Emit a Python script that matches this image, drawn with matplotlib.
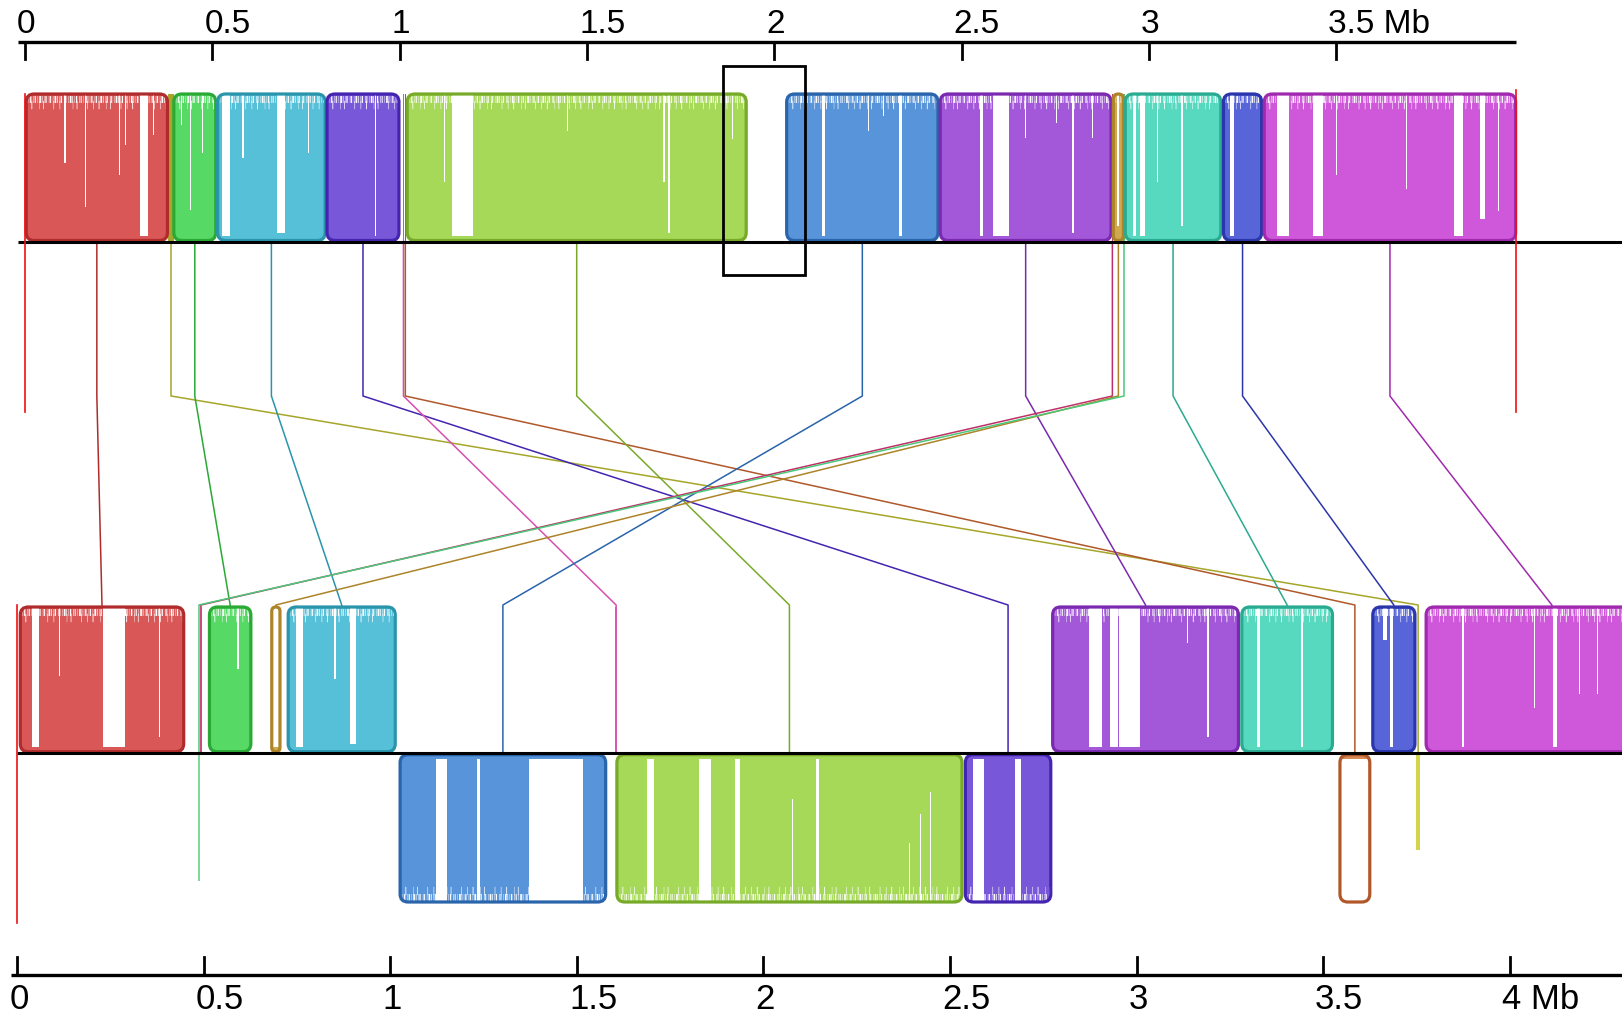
import matplotlib
matplotlib.use("Agg")
import matplotlib.pyplot as plt
from matplotlib.patches import FancyBboxPatch, Rectangle
from matplotlib.transforms import offset_copy

plt.rcParams["lines.scale_dashes"] = False

# ---------------- data (positions in Mb) ----------------
top_ticks = [0, 0.5, 1, 1.5, 2, 2.5, 3, 3.5]
top_tick_labels = ["0", "0.5", "1", "1.5", "2", "2.5", "3", "3.5 Mb"]
bot_ticks = [0, 0.5, 1, 1.5, 2, 2.5, 3, 3.5, 4]
bot_tick_labels = ["0", "0.5", "1", "1.5", "2", "2.5", "3", "3.5", "4 Mb"]
top_length = 3.979
bot_length = 4.45

lcb_fill = ["#d95757", "#d4d44c", "#57d965", "#57c0d9", "#7957d9", "#d957b8",
            "#d98a57", "#a6d957", "#5794d9", "#a357d9", "#d04a78", "#d0a850",
            "#7fd99a", "#57d9c0", "#5765d9", "#cf57d9"]
lcb_edge = ["#b02c2c", "#a6a62a", "#2aaa35", "#2a94ab", "#4425b0", "#d64fb0",
            "#b0582a", "#78aa2a", "#2a64aa", "#7a2aae", "#c03068", "#ad8428",
            "#4cc87a", "#2aaa90", "#2a36aa", "#a02aae"]
top_start = [0.003, 0.382, 0.397, 0.514, 0.806, 1.008, 1.013, 1.020, 2.033, 2.443,
             2.901, 2.905, 2.932, 2.937, 3.199, 3.308]
top_end = [0.380, 0.397, 0.509, 0.801, 0.998, 1.012, 1.017, 1.925, 2.437, 2.899,
           2.904, 2.932, 2.935, 3.192, 3.301, 3.979]
bot_start = [0.008, 3.749, 0.515, 0.726, 2.541, 1.603, 3.545, 1.607, 1.026, 2.775,
             0.490, 0.682, 0.485, 3.282, 3.633, 3.776]
bot_end = [0.446, 3.760, 0.626, 1.013, 2.770, 1.607, 3.625, 2.532, 1.577, 3.273,
           0.494, 0.704, 0.489, 3.525, 3.746, 4.450]
bot_reverse = [False, True, False, False, True, False, True, True, True, False,
               False, False, True, False, False, False]

# low-similarity (white) stretches: (start, end, depth fraction)
top_gaps = [(0.105, 0.108, 0.47), (0.159, 0.163, 0.77), (0.250, 0.253, 0.55),
            (0.267, 0.270, 0.35), (0.307, 0.327, 0.97), (0.342, 0.345, 0.28),
            (0.417, 0.420, 0.21), (0.441, 0.444, 0.79), (0.472, 0.475, 0.40),
            (0.525, 0.547, 0.97), (0.578, 0.584, 0.44), (0.672, 0.694, 0.95),
            (0.756, 0.759, 0.40), (0.933, 0.938, 0.97),
            (1.118, 1.122, 0.60), (1.140, 1.196, 0.97), (1.446, 1.449, 0.25),
            (1.704, 1.708, 0.60), (1.717, 1.722, 0.95), (1.886, 1.889, 0.31),
            (2.128, 2.135, 0.97), (2.249, 2.252, 0.25), (2.290, 2.293, 0.15),
            (2.333, 2.342, 0.97), (2.548, 2.557, 0.97), (2.583, 2.627, 0.97),
            (2.668, 2.671, 0.30), (2.751, 2.754, 0.20), (2.796, 2.799, 0.95),
            (2.849, 2.852, 0.30), (2.916, 2.921, 0.90),
            (2.958, 2.966, 0.97), (2.976, 2.990, 0.97), (3.021, 3.024, 0.60),
            (3.087, 3.090, 0.90), (3.216, 3.227, 0.97),
            (3.342, 3.374, 0.97), (3.437, 3.465, 0.97), (3.499, 3.502, 0.55),
            (3.687, 3.690, 0.65), (3.814, 3.838, 0.97), (3.884, 3.897, 0.85),
            (3.931, 3.934, 0.80)]
bot_gaps = [(0.040, 0.059, 0.97), (0.111, 0.114, 0.48), (0.231, 0.290, 0.97),
            (0.380, 0.383, 0.90), (0.485, 0.489, 0.14), (0.589, 0.593, 0.43),
            (0.684, 0.702, 0.97), (0.746, 0.766, 0.97), (0.850, 0.853, 0.50),
            (0.892, 0.907, 0.95),
            (1.121, 1.152, 0.97), (1.232, 1.240, 0.97), (1.372, 1.517, 0.97),
            (1.689, 1.706, 0.97), (1.828, 1.860, 0.97), (1.923, 1.937, 0.97),
            (2.076, 2.079, 0.70), (2.140, 2.150, 0.97), (2.389, 2.392, 0.40),
            (2.419, 2.422, 0.60), (2.445, 2.448, 0.75),
            (2.561, 2.591, 0.97), (2.675, 2.689, 0.97),
            (2.873, 2.908, 0.97), (2.928, 2.950, 0.97), (2.953, 3.009, 0.97),
            (3.134, 3.137, 0.25), (3.190, 3.193, 0.90),
            (3.322, 3.331, 0.97), (3.441, 3.446, 0.97), (3.548, 3.622, 0.97),
            (3.660, 3.670, 0.23), (3.679, 3.688, 0.97), (3.749, 3.760, 0.35),
            (3.871, 3.878, 0.97), (4.066, 4.069, 0.70), (4.116, 4.127, 0.97),
            (4.185, 4.188, 0.60), (4.235, 4.238, 0.60)]
highlight_range = (1.862, 2.082)

# ---------------- layout / style ----------------
W, H, DPI = 1622, 1016, 100
TOP_X0, TOP_PPM = 25.1, 374.6      # pixel of 0 Mb, pixels per Mb
BOT_X0, BOT_PPM = 17.3, 373.1
TOP_AXIS_Y, TOP_TICK_Y, TOP_LABEL_Y = 42, 59, 33
TOP_BLK0, TOP_CENTER, TOP_BEND, TOP_PANEL_END = 94, 241.5, 396, 412
BOT_BEND, BOT_BLK0, BOT_CENTER, BOT_REV_END, BOT_PANEL_END = 605, 607, 752.7, 902, 923
BOT_AXIS_Y, BOT_TICK_Y, BOT_LABEL_Y = 975, 957, 1009
FONT = ["Liberation Sans", "DejaVu Sans"]
# texture of the similarity profile's ragged edge (dash on/off lengths, points)
FRINGE_A = (0.5, 1.1, 0.3, 0.7, 0.9, 1.6, 0.4, 0.5, 0.7, 1.3, 0.3, 0.9, 1.2, 0.6)
FRINGE_B = (0.4, 3.5, 0.6, 5.0, 0.3, 2.5, 0.5, 7.0, 0.4, 4.0)

fig = plt.figure(figsize=(W / DPI, H / DPI), dpi=DPI)
ax_t = fig.add_axes([0, 0, 1, 1])
ax_b = fig.add_axes([0, 0, 1, 1])
for ax, x0, ppm in ((ax_t, TOP_X0, TOP_PPM), (ax_b, BOT_X0, BOT_PPM)):
    ax.set_xlim(-x0 / ppm, (W - x0) / ppm)
    ax.set_ylim(H, 0)
    ax.axis("off")
    ax.patch.set_alpha(0)


def draw_block(ax, ppm, x0, x1, y0, y1, fill, edge, tiny_color, gaps, reverse):
    w, h = x1 - x0, y1 - y0
    if w * ppm < 6:
        full = Rectangle((x0, y0), w, h, fc=tiny_color, ec="none", zorder=3)
        ax.add_patch(full)
        clip = full
        outline = None
    else:
        r = min(8 / ppm, w / 2, h / (2 * ppm))
        style = f"round,pad=0,rounding_size={r}"
        clip = FancyBboxPatch((x0, y0), w, h, boxstyle=style, mutation_aspect=ppm,
                              fc=fill, ec="none", zorder=3)
        ax.add_patch(clip)
        outline = FancyBboxPatch((x0, y0), w, h, boxstyle=style, mutation_aspect=ppm,
                                 fc="none", ec=edge, lw=2.3, zorder=5)
        # ragged edge of the similarity profile
        edge_y = y1 if reverse else y0
        sgn = -1 if reverse else 1
        for off, lw, pat in ((5, 5.0, FRINGE_A), (11, 6.0, FRINGE_B)):
            ln, = ax.plot([x0, x1], [edge_y + sgn * off] * 2, color="white", lw=lw,
                          linestyle=(0, pat), dash_capstyle="butt", zorder=4)
            ln.set_clip_path(clip)
    for gs, ge, d in gaps:
        if ge <= x0 or gs >= x1:
            continue
        ya = y1 - d * h if reverse else y0
        g = Rectangle((gs, ya), ge - gs, d * h, fc="white", ec="none", zorder=4)
        ax.add_patch(g)
        g.set_clip_path(clip)
    if outline is not None:
        ax.add_patch(outline)


# connecting lines (drawn first, below blocks)
for i in range(len(lcb_fill)):
    xt = (top_start[i] + top_end[i]) / 2
    xb = (bot_start[i] + bot_end[i]) / 2
    yb_end = BOT_CENTER if bot_reverse[i] else BOT_BLK0
    disp = ax_b.transData.transform([(xb, BOT_BEND), (xb, yb_end)])
    pb = ax_t.transData.inverted().transform(disp)
    xs = [xt, xt, pb[0][0], pb[1][0]]
    ys = [TOP_CENTER, TOP_BEND, pb[0][1], pb[1][1]]
    ax_t.plot(xs, ys, color=lcb_edge[i], lw=1.1, zorder=1, clip_on=False)

# blocks
for i in range(len(lcb_fill)):
    draw_block(ax_t, TOP_PPM, top_start[i], top_end[i], TOP_BLK0, TOP_CENTER - 1,
               lcb_fill[i], lcb_edge[i], lcb_edge[i], top_gaps, False)
    if bot_reverse[i]:
        y0, y1 = BOT_CENTER + 2, BOT_REV_END
    else:
        y0, y1 = BOT_BLK0, BOT_CENTER - 1
    draw_block(ax_b, BOT_PPM, bot_start[i], bot_end[i], y0, y1,
               lcb_fill[i], lcb_edge[i], lcb_fill[i], bot_gaps, bot_reverse[i])

# genome center lines
ax_t.plot([-0.019, 4.3], [TOP_CENTER, TOP_CENTER], color="black", lw=2.2, zorder=6,
          solid_capstyle="butt")
ax_b.plot([0.0, 4.4], [BOT_CENTER, BOT_CENTER], color="black", lw=2.2, zorder=6,
          solid_capstyle="butt")

# contig boundaries (red)
ax_t.plot([0, 0], [TOP_BLK0, TOP_PANEL_END], color="#ee1111", lw=1.2, zorder=6)
ax_t.plot([top_length, top_length], [TOP_BLK0 - 4, TOP_PANEL_END], color="#ee1111",
          lw=1.2, zorder=6)
ax_b.plot([0, 0], [BOT_BEND, BOT_PANEL_END], color="#ee1111", lw=1.2, zorder=6)

# rulers
ax_t.plot([-0.018, top_length], [TOP_AXIS_Y, TOP_AXIS_Y], color="black", lw=2.4,
          solid_capstyle="butt")
for t, lab in zip(top_ticks, top_tick_labels):
    ax_t.plot([t, t], [TOP_AXIS_Y, TOP_TICK_Y], color="black", lw=2.0)
    ax_t.text(t, TOP_LABEL_Y, lab, ha="left", va="baseline", fontsize=24,
              family=FONT,
              transform=offset_copy(ax_t.transData, fig=fig, x=-8, y=0, units="dots"))
ax_b.plot([-0.018, 4.4], [BOT_AXIS_Y, BOT_AXIS_Y], color="black", lw=2.4,
          solid_capstyle="butt")
for t, lab in zip(bot_ticks, bot_tick_labels):
    ax_b.plot([t, t], [BOT_TICK_Y, BOT_AXIS_Y], color="black", lw=2.0)
    ax_b.text(t, BOT_LABEL_Y, lab, ha="left", va="baseline", fontsize=25,
              family=FONT,
              transform=offset_copy(ax_b.transData, fig=fig, x=-8, y=0, units="dots"))

# highlighted region box
ax_t.add_patch(Rectangle((highlight_range[0], 66), highlight_range[1] - highlight_range[0],
                         209, fc="none", ec="black", lw=2.0, zorder=8))

fig.savefig("out.png", dpi=DPI)
